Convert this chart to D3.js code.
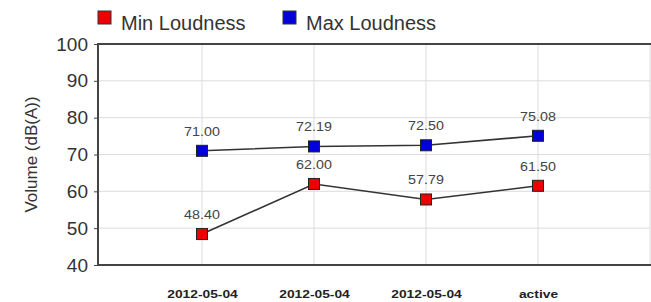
<!DOCTYPE html>
<html><head><meta charset="utf-8">
<script src="https://cdn.jsdelivr.net/npm/d3@7"></script>
<style>body{margin:0;background:#fff;}svg{display:block;font-family:"Liberation Sans",Arial,sans-serif;}</style>
</head><body>
<svg id="c" width="651" height="302"></svg>
<script>
const categories = ["2012-05-04","2012-05-04","2012-05-04","active"];
const minLoudness = [48.40, 62.00, 57.79, 61.50];
const maxLoudness = [71.00, 72.19, 72.50, 75.08];
const yTicks = [40,50,60,70,80,90,100];
const seriesNames = ["Min Loudness","Max Loudness"];
const seriesColors = ["#ee0000","#0000dd"];

const svg = d3.select("#c");
const L = 98, R = 650, T = 44, B = 265;
const x = d3.scaleLinear().domain([1,5]).range([202,650]);
const y = d3.scaleLinear().domain([40,100]).range([B,T]);

// grid
const g = svg.append("g");
g.selectAll("line.h").data(yTicks.filter(t=>t>40&&t<100)).enter().append("line")
  .attr("x1",L).attr("x2",R).attr("y1",d=>y(d)).attr("y2",d=>y(d))
  .attr("stroke","#dcdcdc").attr("stroke-width",1);
g.selectAll("line.v").data([1,2,3,4,5]).enter().append("line")
  .attr("y1",T).attr("y2",B).attr("x1",d=>x(d)).attr("x2",d=>x(d))
  .attr("stroke","#dcdcdc").attr("stroke-width",1);

// y axis
const yAxis = d3.axisLeft(y).tickValues(yTicks).tickSize(4).tickPadding(6).tickFormat(d3.format("d"));
const ya = svg.append("g").attr("transform",`translate(${L},0)`).call(yAxis);
ya.select(".domain").remove();
ya.selectAll("line").attr("stroke","#444");
ya.selectAll("text").attr("font-size",19).attr("fill","#333");
svg.append("line").attr("x1",L).attr("x2",L).attr("y1",T-1).attr("y2",B+1).attr("stroke","#444").attr("stroke-width",2);
svg.append("line").attr("x1",L).attr("x2",R+1).attr("y1",T).attr("y2",T).attr("stroke","#444").attr("stroke-width",2);
svg.append("line").attr("x1",L).attr("x2",R+1).attr("y1",B).attr("y2",B).attr("stroke","#444").attr("stroke-width",2);

// x labels
const xAxis = d3.axisBottom(x).tickValues([1,2,3,4]).tickSize(0).tickPadding(26).tickFormat((d,i)=>categories[i]);
const xa = svg.append("g").attr("transform",`translate(0,${B})`).call(xAxis);
xa.select(".domain").remove();
xa.selectAll("text").attr("font-size",10).attr("font-weight","bold").attr("fill","#222")
  .attr("transform","scale(1.38,1)");

// y title
svg.append("text").attr("transform",`translate(37,${(T+B)/2}) rotate(-90)`).attr("text-anchor","middle")
  .attr("font-size",17).attr("fill","#333").text("Volume (dB(A))");

// series
const line = d3.line().x((d,i)=>x(i+1)).y(d=>y(d));
[minLoudness,maxLoudness].forEach((vals,si)=>{
  svg.append("path").attr("d",line(vals)).attr("fill","none").attr("stroke","#333").attr("stroke-width",1.6);
  svg.selectAll(null).data(vals).enter().append("rect")
    .attr("x",(d,i)=>x(i+1)-5.5).attr("y",d=>y(d)-5.5).attr("width",11).attr("height",11)
    .attr("fill",seriesColors[si]).attr("stroke","#222").attr("stroke-width",1);
  svg.selectAll(null).data(vals).enter().append("text")
    .attr("transform",(d,i)=>`translate(${x(i+1)},${y(d)-15}) scale(1.1,1)`)
    .attr("text-anchor","middle").attr("font-size",13).attr("fill","#444")
    .text(d=>d3.format(".2f")(d));
});

// legend
const lg = svg.append("g");
const lx = [98,283];
seriesNames.forEach((n,i)=>{
  lg.append("rect").attr("x",lx[i]).attr("y",11).attr("width",13).attr("height",13)
    .attr("fill",seriesColors[i]).attr("stroke","#333").attr("stroke-width",1);
  lg.append("text").attr("x",lx[i]+23).attr("y",30).attr("font-size",20).attr("fill","#333").text(n);
});
</script>
</body></html>
